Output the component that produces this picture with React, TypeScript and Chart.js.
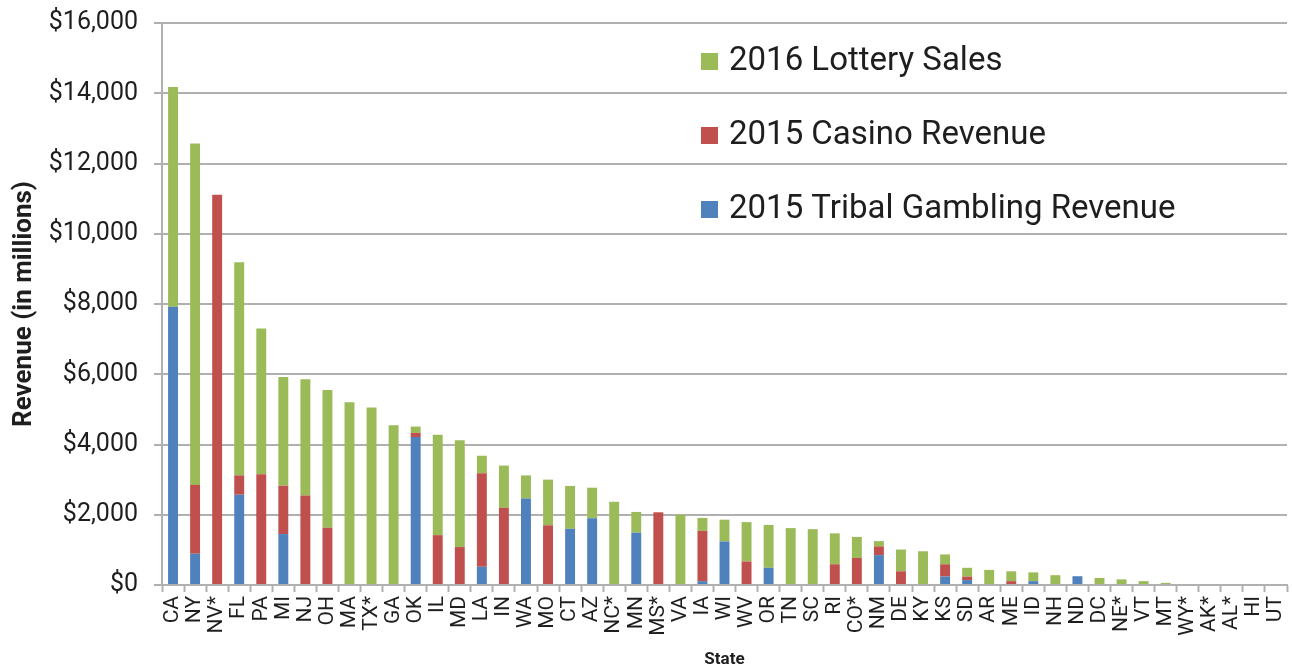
import React, { useEffect, useRef } from "react";
import { Chart, registerables } from "chart.js";

Chart.register(...registerables);

const categories = [
  "CA", "NY", "NV*", "FL", "PA", "MI", "NJ", "OH", "MA", "TX*", "GA", "OK", "IL",
  "MD", "LA", "IN", "WA", "MO", "CT", "AZ", "NC*", "MN", "MS*", "VA", "IA", "WI",
  "WV", "OR", "TN", "SC", "RI", "CO*", "NM", "DE", "KY", "KS", "SD", "AR", "ME",
  "ID", "NH", "ND", "DC", "NE*", "VT", "MT", "WY*", "AK*", "AL*", "HI", "UT",
];

const tribalRevenue = [
  7920, 890, 0, 2570, 0, 1450, 0, 0, 0, 0, 0, 4210, 0,
  0, 520, 0, 2460, 0, 1600, 1900, 0, 1490, 0, 0, 110, 1240,
  0, 490, 0, 0, 0, 0, 850, 0, 0, 240, 140, 0, 0,
  110, 0, 250, 0, 0, 0, 0, 0, 0, 0, 0, 0,
];

const casinoRevenue = [
  0, 1960, 11110, 550, 3150, 1380, 2550, 1630, 0, 0, 0, 120, 1420,
  1080, 2660, 2200, 0, 1700, 0, 0, 0, 0, 2070, 0, 1430, 0,
  670, 0, 0, 0, 590, 770, 250, 390, 0, 350, 100, 0, 110,
  0, 0, 0, 0, 0, 0, 0, 0, 0, 0, 0, 0,
];

const lotterySales = [
  6260, 9720, 0, 6070, 4150, 3090, 3310, 3920, 5200, 5050, 4550, 180, 2860,
  3040, 500, 1200, 660, 1300, 1220, 870, 2370, 590, 0, 2000, 370, 620,
  1120, 1220, 1620, 1590, 880, 600, 150, 620, 960, 280, 250, 430, 280,
  250, 280, 0, 200, 160, 110, 60, 0, 0, 0, 0, 0,
];

const seriesNames = ["2015 Tribal Gambling Revenue", "2015 Casino Revenue", "2016 Lottery Sales"];
const seriesColors = ["#4f81bd", "#c0504d", "#9bbb59"];
const legendOrder = [2, 1, 0];

const FONT = "Roboto, 'Noto Sans', sans-serif";
const TEXT = "#1e1e1e";
const GRID = "#b0b0b0";

const legendPlugin = {
  id: "insideLegend",
  afterDraw(chart: any) {
    const ctx = chart.ctx;
    ctx.save();
    const baselines = [70, 144, 218];
    legendOrder.forEach((di, i) => {
      const ds = chart.data.datasets[di];
      const y = baselines[i];
      ctx.fillStyle = ds.backgroundColor;
      ctx.fillRect(701, y - 17, 17, 17);
      ctx.fillStyle = TEXT;
      ctx.font = `33px ${FONT}`;
      ctx.textBaseline = "alphabetic";
      ctx.textAlign = "left";
      ctx.fillText(ds.label, 729, y);
    });
    ctx.restore();
  },
};

export default function App() {
  const ref = useRef<HTMLCanvasElement | null>(null);

  useEffect(() => {
    if (!ref.current) return;
    const datasets = [tribalRevenue, casinoRevenue, lotterySales].map((d, i) => ({
      label: seriesNames[i],
      data: d,
      backgroundColor: seriesColors[i],
      borderWidth: 0,
      barPercentage: 0.45,
      categoryPercentage: 1,
    }));
    const chart = new Chart(ref.current, {
      type: "bar",
      data: { labels: categories, datasets },
      options: {
        animation: false,
        responsive: true,
        maintainAspectRatio: false,
        layout: { padding: { top: 23, right: 5, left: 0, bottom: 0 } },
        plugins: {
          legend: { display: false },
          tooltip: { enabled: false },
          title: { display: false },
        },
        scales: {
          x: {
            stacked: true,
            afterFit: (s: any) => {
              s.height = 85;
              s.paddingLeft = 0;
              s.paddingRight = 0;
            },
            grid: {
              display: true,
              drawOnChartArea: false,
              drawTicks: true,
              tickLength: 7,
              tickWidth: 2,
              tickColor: GRID,
              offset: true,
            },
            border: { display: true, color: GRID, width: 2 },
            ticks: {
              autoSkip: false,
              maxRotation: 90,
              minRotation: 90,
              padding: 4,
              color: TEXT,
              font: { family: FONT, size: 21 },
            },
            title: {
              display: true,
              text: "State",
              color: TEXT,
              font: { family: FONT, size: 17, weight: "bold" },
              padding: { top: 0, bottom: 0 },
            },
          },
          y: {
            stacked: true,
            min: 0,
            max: 16000,
            afterFit: (s: any) => {
              s.width = 162;
              s.paddingTop = 0;
              s.paddingBottom = 0;
            },
            grid: {
              color: GRID,
              lineWidth: 2,
              drawTicks: true,
              tickLength: 8,
              tickColor: GRID,
            },
            border: { display: true, color: GRID, width: 2 },
            ticks: {
              stepSize: 2000,
              padding: 16,
              color: TEXT,
              font: { family: FONT, size: 25 },
              callback: (v: any) => "$" + Number(v).toLocaleString("en-US"),
            },
            title: {
              display: true,
              text: "Revenue (in millions)",
              color: TEXT,
              font: { family: FONT, size: 26, weight: "bold" },
              padding: { top: 9, bottom: 0 },
            },
          },
        },
      },
      plugins: [legendPlugin],
    });
    return () => chart.destroy();
  }, []);

  return (
    <div style={{ position: "fixed", left: 0, top: 0, width: 1292, height: 670, background: "#fff" }}>
      <canvas ref={ref} />
    </div>
  );
}
